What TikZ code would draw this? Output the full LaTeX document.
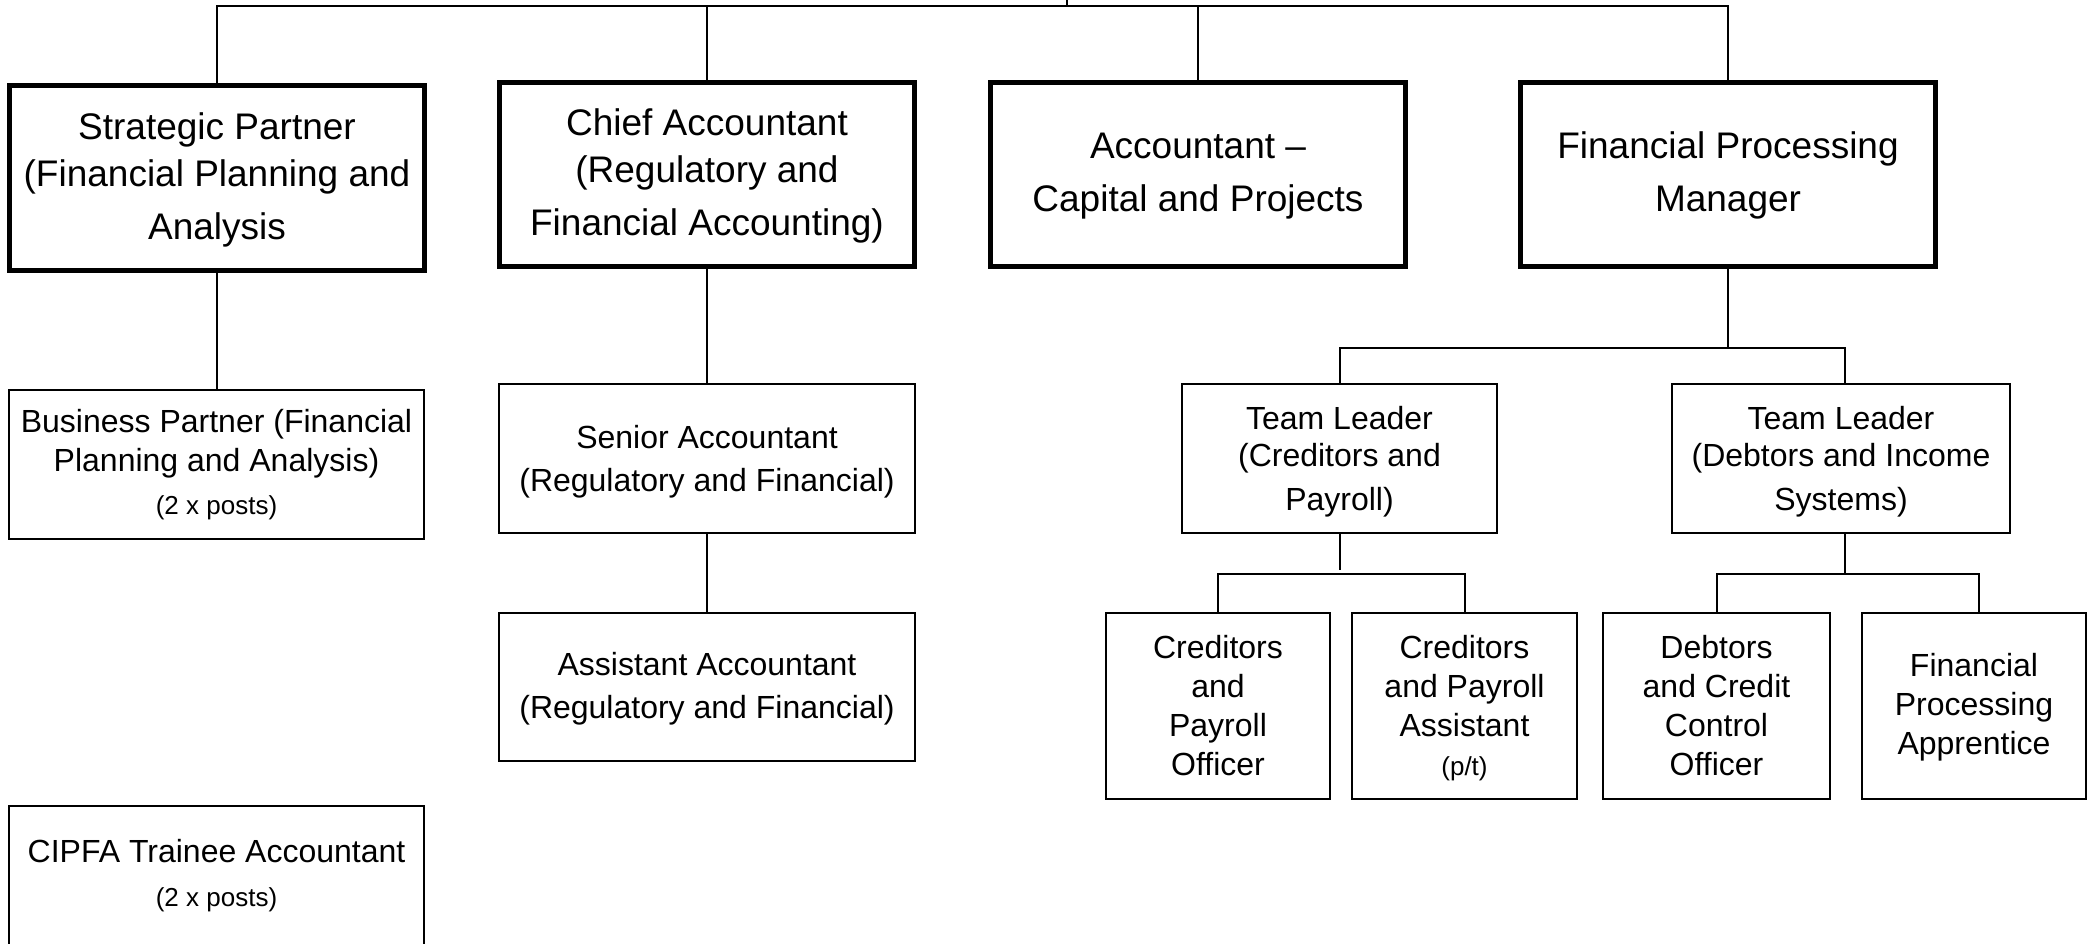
\documentclass[tikz,border=0pt]{standalone}
\usepackage{fontspec}
\setmainfont{Liberation Sans}
\newcommand\boxlines[1]{\begin{tabular}[t]{@{}c@{}}#1\end{tabular}}
\newcommand\smalltxt[1]{{\fontsize{26}{39}\selectfont #1}}
\begin{document}
\begin{tikzpicture}[x=1pt,y=-1pt,
  topbox/.style={draw, line width=5pt, inner sep=0pt, outer sep=0pt, anchor=base,
    minimum width=415pt, font=\fontsize{37}{47}\selectfont},
  subbox/.style={draw, line width=2pt, inner sep=0pt, outer sep=0pt, anchor=base,
    font=\fontsize{32}{39}\selectfont},
  conn/.style={line width=2pt}]
\fill[white] (0,0) rectangle (2091,944);
\useasboundingbox (0,0) rectangle (2091,944);

% top level
\node[topbox, text height=54.5pt, text depth=130.5pt] (sp) at (217,140)
  {\boxlines{Strategic Partner\\(Financial Planning and\\[6pt]Analysis}};
\node[topbox, text height=53.5pt, text depth=130.5pt] (chief) at (707,136)
  {\boxlines{Chief Accountant\\(Regulatory and\\[6pt]Financial Accounting)}};
\node[topbox, text height=76.5pt, text depth=107.5pt] (acc) at (1198,159)
  {\boxlines{Accountant \textendash\\[6pt]Capital and Projects}};
\node[topbox, text height=76.5pt, text depth=107.5pt] (fpm) at (1728,159)
  {\boxlines{Financial Processing\\[6pt]Manager}};

% second level
\node[subbox, minimum width=415pt, text height=42pt, text depth=107pt] (bp) at (216.5,432)
  {\boxlines{Business Partner (Financial\\Planning and Analysis)\\[4pt]\smalltxt{(2 x posts)}}};
\node[subbox, minimum width=416pt, text height=64pt, text depth=85pt] (senior) at (707,448)
  {\boxlines{Senior Accountant\\[4pt](Regulatory and Financial)}};
\node[subbox, minimum width=416pt, text height=62pt, text depth=86pt] (asst) at (707,675)
  {\boxlines{Assistant Accountant\\[4pt](Regulatory and Financial)}};
\node[subbox, minimum width=415pt, text height=56pt, text depth=84pt] (cipfa) at (216.5,862)
  {\boxlines{CIPFA Trainee Accountant\\[5pt]\smalltxt{(2 x posts)}}};

\node[subbox, minimum width=315pt, text height=45pt, text depth=104pt] (tl1) at (1339.5,429)
  {\boxlines{Team Leader\\[-2pt](Creditors and\\[5pt]Payroll)}};
\node[subbox, minimum width=338pt, text height=45pt, text depth=104pt] (tl2) at (1841,429)
  {\boxlines{Team Leader\\[-2pt](Debtors and Income\\[5pt]Systems)}};

% third level
\node[subbox, minimum width=224pt, text height=45pt, text depth=141pt] (cpo) at (1218,658)
  {\boxlines{Creditors\\and\\Payroll\\Officer}};
\node[subbox, minimum width=225pt, text height=45pt, text depth=141pt] (cpa) at (1464.5,658)
  {\boxlines{Creditors\\and Payroll\\Assistant\\\smalltxt{(p/t)}}};
\node[subbox, minimum width=227pt, text height=45pt, text depth=141pt] (dcco) at (1716.5,658)
  {\boxlines{Debtors\\and Credit\\Control\\Officer}};
\node[subbox, minimum width=224pt, text height=63pt, text depth=123pt] (fpa) at (1974,676)
  {\boxlines{Financial\\Processing\\Apprentice}};

% junction coordinates
\coordinate (topstub) at (1067,-2);
\coordinate (bus) at (1067,5.7);
\coordinate (fbus) at (1727,348);
\coordinate (cbus) at (1340,574);
\coordinate (dbus) at (1845,574);
\coordinate (tl1stub) at (1340,570);
\coordinate (tl2n) at ([xshift=4pt]tl2.north);
\coordinate (tl2s) at ([xshift=4pt]tl2.south);
\coordinate (fpan) at ([xshift=5pt]fpa.north);

% connectors
\draw[conn] (topstub) -- (bus);
\draw[conn] (sp.north) -- (sp.north |- bus) -- (fpm.north |- bus) -- (fpm.north);
\draw[conn] (chief.north) -- (chief.north |- bus);
\draw[conn] (acc.north) -- (acc.north |- bus);

\draw[conn] (sp.south) -- (sp.south |- bp.north);
\draw[conn] (chief.south) -- (senior.north);
\draw[conn] (senior.south) -- (asst.north);

\draw[conn] (fpm.south) -- (fpm.south |- fbus);
\draw[conn] (tl1.north) -- (tl1.north |- fbus) -- (tl2n |- fbus) -- (tl2n);

\draw[conn] (tl1.south) -- (tl1.south |- tl1stub);
\draw[conn] (cpo.north) -- (cpo.north |- cbus) -- (cpa.north |- cbus) -- (cpa.north);

\draw[conn] (tl2s) -- (tl2s |- dbus);
\draw[conn] (dcco.north) -- (dcco.north |- dbus) -- (fpan |- dbus) -- (fpan);
\end{tikzpicture}
\end{document}
